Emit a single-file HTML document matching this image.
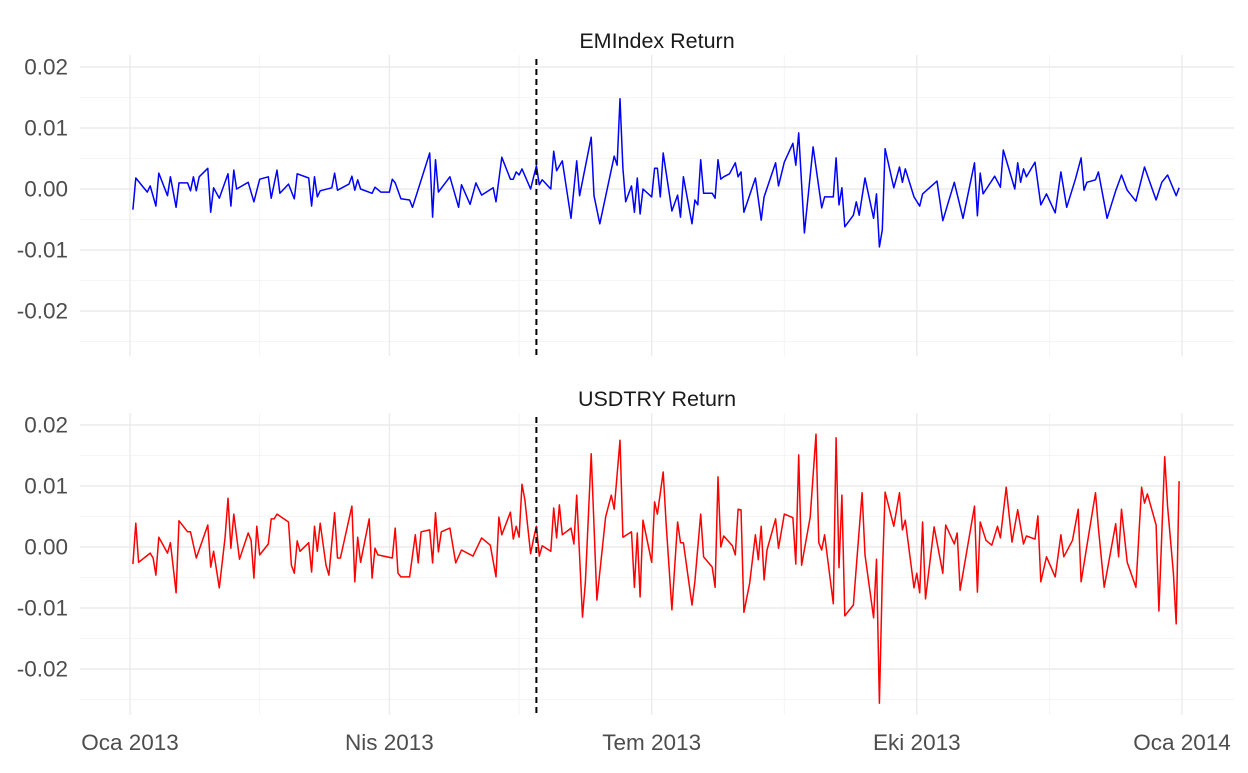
<!DOCTYPE html>
<html><head><meta charset="utf-8"><style>
html,body{margin:0;padding:0;background:#fff;}
svg text{font-family:"Liberation Sans",sans-serif;}
</style></head><body>
<svg id="chart" width="1248" height="768" xmlns="http://www.w3.org/2000/svg"></svg>
<script>
// day offsets from 2013-01-01 and returns in basis points
const emiDays=[1,2,6,7,9,10,13,14,16,17,20,21,22,23,24,27,28,29,31,34,35,36,37,41,43,45,48,49,51,52,55,57,58,62,63,64,65,66,70,71,72,76,77,78,79,80,84,85,87,90,91,92,94,97,98,104,105,106,107,111,114,115,118,120,122,126,127,129,132,133,134,135,136,139,141,142,143,146,147,148,150,153,155,156,160,161,163,168,169,170,171,172,174,175,176,177,178,181,182,183,184,185,188,190,191,192,195,196,197,198,199,202,203,204,205,206,208,210,211,212,213,217,219,220,224,225,227,230,231,232,234,237,240,241,244,245,246,247,248,251,252,253,255,258,259,260,261,262,265,267,268,269,272,274,275,280,282,286,289,293,294,295,296,300,302,303,307,308,309,310,311,314,316,318,321,323,325,328,330,331,332,335,336,339,342,344,346,349,352,356,358,360,363,364];
const emiBp=[-34,18,-5,5,-28,26,-11,20,-30,10,10,-3,20,-3,20,34,-38,2,-15,25,-28,31,0,11,-21,16,20,-15,31,-7,8,-16,25,18,-28,20,-13,-3,2,26,-2,8,21,-2,15,0,-7,3,-5,-5,16,10,-16,-18,-30,59,-46,48,-5,20,-30,7,-25,10,-10,2,-21,52,16,16,28,23,33,0,38,7,15,0,62,30,46,-48,46,-11,85,-11,-57,54,39,148,34,-21,5,-38,18,-41,0,-13,34,34,-13,59,-36,-10,-46,20,-57,-18,-26,48,-7,-7,-15,48,16,20,25,43,20,28,-38,18,-51,-13,43,5,44,75,39,92,-72,69,-31,-13,-13,51,-26,2,-62,-43,-21,-43,18,-48,-8,-95,-67,66,2,36,11,33,-13,-28,-8,13,-52,11,-48,43,-44,26,-8,21,3,64,0,43,11,33,20,44,-26,-8,-39,28,-30,16,51,-2,11,15,28,-48,-3,23,-2,-20,36,-18,11,23,-11,2];
const usdDays=[1,2,3,7,8,9,10,13,14,15,16,17,20,21,23,27,28,29,31,33,34,35,36,38,41,42,43,44,45,48,49,50,51,55,56,57,58,59,62,63,64,65,66,68,69,71,72,73,77,78,79,80,83,84,85,86,91,92,93,94,97,99,100,101,104,105,106,107,108,111,113,115,119,122,125,127,128,129,132,133,134,135,136,137,139,140,141,142,143,146,147,148,149,150,153,154,155,157,158,160,162,165,167,168,170,171,174,175,176,177,178,181,182,183,185,186,188,190,191,192,195,196,198,199,202,203,204,205,206,209,210,211,212,213,215,217,218,219,220,221,224,225,227,230,231,232,233,236,238,239,240,241,244,245,246,247,248,251,252,254,255,258,259,260,261,262,265,267,268,269,272,273,274,275,276,279,282,283,286,287,288,293,294,295,297,299,301,302,304,306,308,310,311,314,315,316,318,321,323,324,327,329,330,335,336,338,342,343,344,346,349,351,352,353,356,357,359,360,362,363,364];
const usdBp=[-28,39,-25,-10,-18,-46,16,-10,7,-33,-75,43,25,25,-18,36,-33,-7,-67,16,80,-2,54,-20,23,11,-51,34,-13,5,46,46,54,41,-30,-43,10,-7,7,-41,34,-7,39,-30,-46,56,-18,-18,67,-57,16,-25,46,-51,-2,-13,-18,31,-43,-49,-49,20,-26,25,28,-26,56,-8,25,31,-26,-5,-15,15,3,-49,49,20,57,13,34,16,103,77,-11,13,34,-15,2,-7,64,15,69,20,31,5,85,-115,-57,153,-87,49,85,62,175,16,25,-66,23,-82,44,-25,74,54,123,39,-103,41,7,7,-95,-56,54,-16,-33,-66,115,0,18,2,-13,62,61,-107,-59,20,-21,34,-54,-5,46,-2,54,48,-28,151,-30,49,185,7,-5,20,-93,179,-34,85,-113,-95,-33,89,-13,-116,-20,-256,-49,90,34,89,28,44,-67,-43,-75,41,-85,33,-43,36,5,23,-71,67,-74,41,11,3,34,15,98,8,61,5,18,13,51,-57,-16,-49,20,-16,11,62,-57,89,31,-66,38,-16,62,-25,-66,98,72,87,36,-105,148,66,-43,-126,108];
const yTicks=[0.02,0.01,0,-0.01,-0.02];
const yTickLabels=["0.02","0.01","0.00","-0.01","-0.02"];
const xTickDays=[0,90,181,273,365];
const xTickLabels=["Oca 2013","Nis 2013","Tem 2013","Eki 2013","Oca 2014"];
const xMinorDays=[45,135,227,319];
const eventDay=141;

const NS="http://www.w3.org/2000/svg";
const svg=document.getElementById('chart');
function mk(t,a,p){const e=document.createElementNS(NS,t);for(const k in a)e.setAttribute(k,a[k]);(p||svg).appendChild(e);return e;}
const X0=130,XPX=(1182-130)/365;
const xs=d=>X0+d*XPX;
const panels=[
 {title:"EMIndex Return",zero:189,top:55,bot:356,days:emiDays,bp:emiBp,color:"#0000ff",name:"emindex"},
 {title:"USDTRY Return",zero:547,top:413,bot:715,days:usdDays,bp:usdBp,color:"#ff0000",name:"usdtry"}
];
const YPX=6100;
panels.forEach(p=>{
 const ys=v=>p.zero-v*YPX;
 const g=mk('g',{});
 
 
 [0.015,0.005,-0.005,-0.015,-0.025].forEach(v=>{const y=ys(v);if(y>p.top-2&&y<p.bot+2){const l=mk('line',{x1:80,x2:1234,y1:y,y2:y,stroke:'#f2f2f2','stroke-width':0.8},g);}});
 xMinorDays.forEach(d=>{const l=mk('line',{x1:xs(d),x2:xs(d),y1:p.top,y2:p.bot,stroke:'#f2f2f2','stroke-width':0.8},g);});
 yTicks.forEach((v,i)=>{const y=ys(v);const l=mk('line',{x1:80,x2:1234,y1:y,y2:y,stroke:'#ebebeb','stroke-width':1.4},g);
  const t=mk('text',{x:68,y:y+7.5,'text-anchor':'end','font-size':22.5,fill:'#4d4d4d'},g);t.textContent=yTickLabels[i];});
 xTickDays.forEach(d=>{const l=mk('line',{x1:xs(d),x2:xs(d),y1:p.top,y2:p.bot,stroke:'#ebebeb','stroke-width':1.4},g);});
 const tt=mk('text',{x:657,y:p.name==='emindex'?48:406,'text-anchor':'middle','font-size':21.5,fill:'#1a1a1a'},g);tt.textContent=p.title;
 const pts=p.days.map((d,i)=>xs(d).toFixed(1)+','+ys(p.bp[i]/10000).toFixed(1)).join(' ');
 const line=mk('polyline',{points:pts,fill:'none',stroke:p.color,'stroke-width':1.5,'stroke-linejoin':'round'},g);
 
 
 const ev=mk('line',{x1:xs(eventDay),x2:xs(eventDay),y1:p.top+4,y2:p.bot,stroke:'#000','stroke-width':2,'stroke-dasharray':'6,4'},g);
 
 
});
xTickDays.forEach((d,i)=>{const t=mk('text',{x:xs(d),y:750,'text-anchor':'middle','font-size':22.5,fill:'#4d4d4d'});t.textContent=xTickLabels[i];
 
 });
</script>
</body></html>
